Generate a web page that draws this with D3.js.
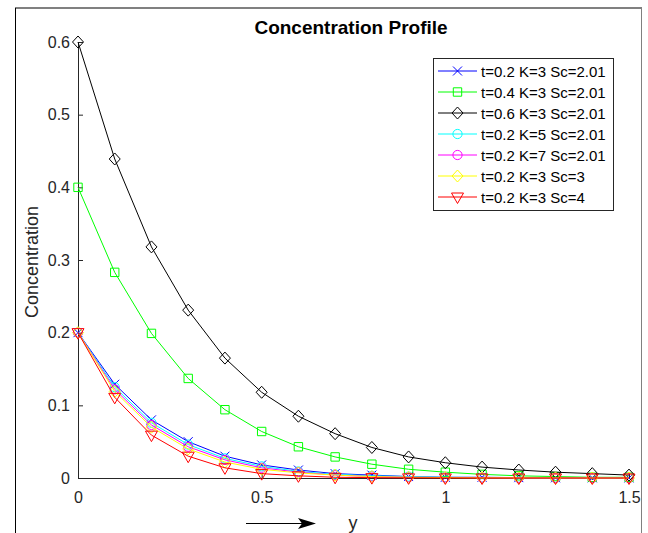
<!DOCTYPE html>
<html>
<head>
  <meta charset="utf-8">
  <title>Concentration Profile</title>
  <script src="https://d3js.org/d3.v7.min.js"></script>
  <style>
    body { margin: 0; background: #fff; }
    text { font-family: "Liberation Sans", Arial, sans-serif; }
  </style>
</head>
<body>
  <script>
      var w=648;
      var h=533;

      // data
      var yPos=[0,0.1,0.2,0.3,0.4,0.5,0.6,0.7,0.8,0.9,1.0,1.1,1.2,1.3,1.4,1.5];
      var labels=["t=0.2 K=3 Sc=2.01","t=0.4 K=3 Sc=2.01","t=0.6 K=3 Sc=2.01",
                  "t=0.2 K=5 Sc=2.01","t=0.2 K=7 Sc=2.01","t=0.2 K=3 Sc=3","t=0.2 K=3 Sc=4"];
      var colors=["#0000ff","#00ff00","#000000","#00ffff","#ff00ff","#ffff00","#ff0000"];
      var markers=["x","square","diamond","circle","circle","diamond","triangle"];
      var s1=[0.2,0.129,0.080,0.050,0.030,0.018,0.011,0.006,0.004,0.002,0.001,0.001,0.0005,0.0003,0.0002,0.0001];
      var s2=[0.4,0.283,0.199,0.137,0.094,0.064,0.043,0.029,0.019,0.012,0.008,0.005,0.003,0.002,0.001,0.001];
      var s3=[0.6,0.439,0.318,0.231,0.165,0.118,0.085,0.061,0.042,0.029,0.021,0.015,0.011,0.008,0.006,0.004];
      var s4=[0.2,0.125,0.076,0.046,0.027,0.016,0.009,0.005,0.003,0.002,0.001,0.0006,0.0004,0.0002,0.0001,0.0001];
      var s5=[0.2,0.122,0.073,0.043,0.025,0.014,0.008,0.004,0.002,0.001,0.0007,0.0004,0.0002,0.0001,0.0001,0];
      var s6=[0.2,0.119,0.070,0.040,0.022,0.012,0.007,0.004,0.002,0.001,0.0006,0.0003,0.0002,0.0001,0,0];
      var s7=[0.2,0.111,0.059,0.030,0.014,0.006,0.003,0.001,0.0005,0.0002,0.0001,0,0,0,0,0];
      var series=[s1,s2,s3,s4,s5,s6,s7];
      var xTicks=[0,0.5,1,1.5];
      var yTicks=[0,0.1,0.2,0.3,0.4,0.5,0.6];

      var svg=d3.select("body").append("svg")
                .attr("width",w).attr("height",h);

      // outer figure frame
      svg.append("line").attr("x1",15).attr("y1",8).attr("x2",642).attr("y2",8)
         .attr("stroke","#808080").attr("stroke-width",2);
      svg.append("line").attr("x1",15.5).attr("y1",8).attr("x2",15.5).attr("y2",h)
         .attr("stroke","#000").attr("stroke-width",1);
      svg.append("line").attr("x1",641.5).attr("y1",8).attr("x2",641.5).attr("y2",h)
         .attr("stroke","#808080").attr("stroke-width",1);

      var x=d3.scaleLinear().domain([0,1.5]).range([78,629]);
      var y=d3.scaleLinear().domain([0,0.6]).range([478,42]);

      // axes (ticks pointing inward)
      var gx=svg.append("g").attr("transform","translate(0,478)")
        .call(d3.axisBottom(x).tickValues(xTicks).tickSizeInner(-5).tickSizeOuter(0)
              .tickPadding(14).tickFormat(d3.format("")));
      var gy=svg.append("g").attr("transform","translate(78,0)")
        .call(d3.axisLeft(y).tickValues(yTicks).tickSizeInner(-5).tickSizeOuter(0)
              .tickPadding(8).tickFormat(d3.format("")));
      [gx,gy].forEach(function(g){
        g.select(".domain").attr("stroke","#262626");
        g.selectAll(".tick line").attr("stroke","#262626");
        g.selectAll(".tick text").attr("fill","#262626")
         .style("font-size","16px").style("font-family","'Liberation Sans', Arial, sans-serif");
      });

      function markerPath(type){
        if(type=="x"){return "M-4.5,-4.5L4.5,4.5M-4.5,4.5L4.5,-4.5";}
        if(type=="square"){return "M-4.2,-4.2H4.2V4.2H-4.2Z";}
        if(type=="diamond"){return "M0,-6L5.5,0L0,6L-5.5,0Z";}
        if(type=="circle"){return "M4.6,0A4.6,4.6 0 1,1 -4.6,0A4.6,4.6 0 1,1 4.6,0Z";}
        return "M-6,-4H6L0,6.5Z";
      }

      var line=d3.line().x(function(d,i){return x(yPos[i]);}).y(function(d){return y(d);});

      series.forEach(function(s,k){
        var g=svg.append("g");
        g.append("path").datum(s).attr("d",line)
         .attr("fill","none").attr("stroke",colors[k]).attr("stroke-width",1);
        g.selectAll("path.m").data(s).enter().append("path").attr("class","m")
         .attr("d",markerPath(markers[k]))
         .attr("transform",function(d,i){return "translate("+x(yPos[i])+","+y(d)+")";})
         .attr("fill","none").attr("stroke",colors[k]).attr("stroke-width",1);
      });

      // title and labels
      svg.append("text").attr("x",351).attr("y",34).attr("text-anchor","middle")
         .style("font-size","19px").style("font-weight","bold").attr("fill","#000")
         .text("Concentration Profile");
      svg.append("text").attr("transform","translate(38,262) rotate(-90)")
         .attr("text-anchor","middle").style("font-size","18px").attr("fill","#262626")
         .text("Concentration");
      svg.append("text").attr("x",353).attr("y",529).attr("text-anchor","middle")
         .style("font-size","18px").attr("fill","#262626").text("y");
      svg.append("line").attr("x1",246).attr("y1",523.5).attr("x2",302).attr("y2",523.5)
         .attr("stroke","#000").attr("stroke-width",1.2);
      svg.append("path").attr("d","M298,518L316,523.5L298,529L302,523.5Z").attr("fill","#000");

      // legend
      var lg=svg.append("g");
      lg.append("rect").attr("x",433.5).attr("y",58.5).attr("width",180).attr("height",152)
        .attr("fill","#fff").attr("stroke","#262626").attr("stroke-width",1);
      labels.forEach(function(t,k){
        var yy=71+k*21;
        lg.append("line").attr("x1",438).attr("x2",477).attr("y1",yy).attr("y2",yy)
          .attr("stroke",colors[k]).attr("stroke-width",1);
        lg.append("path").attr("d",markerPath(markers[k]))
          .attr("transform","translate(457.5,"+yy+")")
          .attr("fill","none").attr("stroke",colors[k]).attr("stroke-width",1);
        lg.append("text").attr("x",481).attr("y",yy+5.5)
          .style("font-size","15px").attr("fill","#000").text(t);
      });
  </script>
</body>
</html>
